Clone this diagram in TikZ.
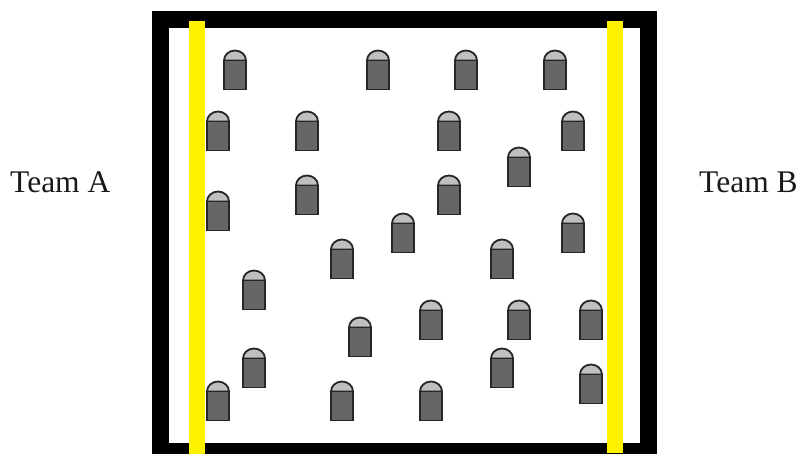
\documentclass[tikz,border=0pt]{standalone}
\usepackage{fontspec}
\setmainfont{Liberation Serif}
\tikzset{
  label text/.style={inner sep=0pt,font=\fontsize{31.5}{36}\selectfont,text=black!90},
  frame line/.style={draw=black,line width=17pt},
  yellow bar/.style={fill=yellow,draw=none},
  pawn body/.style={fill=black!60,draw=black!85,line width=1.8pt},
  pawn dome/.style={fill=black!25,draw=black!85,line width=1.8pt},
}
\begin{document}
\begin{tikzpicture}[x=1pt,y=-1pt]
\useasboundingbox (0,0) rectangle (798,454);
\fill[white] (0,0) rectangle (798,454);
\draw[frame line] (160.5,19.5) rectangle (648.5,451);
\fill[yellow bar] (189,21) rectangle (204.5,454);
\fill[yellow bar] (607,21) rectangle (623,453);
\foreach \cx/\by in {235/89.5,378/89.5,466/89.5,555/89.5,
  218/150.5,307/150.5,449/150.5,573/150.5,519/186.5,
  218/230.5,307/214.5,449/214.5,403/252.5,573/252.5,
  342/278.5,502/278.5,254/309.5,
  360/356.5,431/339.5,519/339.5,591/339.5,
  254/387.5,502/387.5,591/403.5,
  218/420.5,342/420.5,431/420.5}{
  \begin{scope}[shift={(\cx,\by)}]
    \draw[pawn dome] (-11,-29) arc[start angle=180,end angle=0,x radius=11,y radius=-10] -- cycle;
    \draw[pawn body] (-11,-29) rectangle (11,0);
  \end{scope}
}
\node[label text,anchor=base west] (teamA) at (10,193) {Team A};
\node[label text,anchor=base west] (teamB) at (699,193) {Team B};
\end{tikzpicture}
\end{document}
